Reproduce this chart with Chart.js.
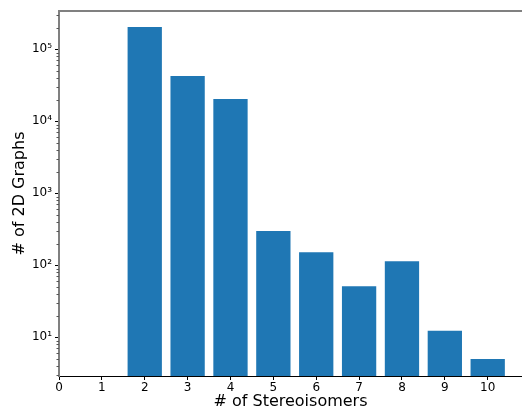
<!DOCTYPE html>
<html>
<head>
<meta charset="utf-8">
<script src="https://cdn.jsdelivr.net/npm/chart.js@4"></script>
<style>
  html, body { margin: 0; padding: 0; background: #fff; overflow: hidden; }
</style>
</head>
<body>
<canvas id="isoChart" width="522" height="413"></canvas>
<script>
'use strict'
{
  const stereoisomers = [2, 3, 4, 5, 6, 7, 8, 9, 10];
  const graphCounts = [204000, 42500, 20400, 300, 152, 51, 114, 12.3, 5];
  const xTicks = [0, 1, 2, 3, 4, 5, 6, 7, 8, 9, 10];
  const sup = {'0': '⁰', '1': '¹', '2': '²', '3': '³', '4': '⁴', '5': '⁵', '6': '⁶'};

  const isPow10 = (v) => Math.abs(Math.log10(v) - Math.round(Math.log10(v))) < 1e-9;

  // short minor ticks on the log axis + top spine
  const axisExtras = {
    id: 'axisExtras',
    afterDraw(chart) {
      const c = chart.ctx;
      const y = chart.scales.y;
      const area = chart.chartArea;
      c.save();
      c.strokeStyle = '#555';
      c.lineWidth = 1;
      for (let e = Math.floor(Math.log10(y.min)); e <= Math.ceil(Math.log10(y.max)); e++) {
        for (let k = 2; k <= 9; k++) {
          const v = k * Math.pow(10, e);
          if (v < y.min || v > y.max) continue;
          const py = Math.round(y.getPixelForValue(v)) + 0.5;
          c.beginPath();
          c.moveTo(area.left - 2.5, py);
          c.lineTo(area.left, py);
          c.stroke();
        }
      }
      c.strokeStyle = '#808080';
      c.lineWidth = 2;
      c.beginPath();
      c.moveTo(area.left, area.top);
      c.lineTo(chart.width, area.top);
      c.stroke();
      c.restore();
    }
  };

  const ctx = document.getElementById('isoChart').getContext('2d');

  const data = {
    datasets: [{
      data: stereoisomers.map((s, i) => ({x: s, y: graphCounts[i]})),
      backgroundColor: '#1f77b4',
      borderWidth: 0,
      barPercentage: 0.8,
      categoryPercentage: 1.0,
    }],
  };

  const options = {
    responsive: false,
    animation: false,
    layout: {
      padding: {top: 11, left: 0, right: 0, bottom: 0},
    },
    plugins: {
      legend: {display: false},
      tooltip: {enabled: false},
    },
    scales: {
      x: {
        type: 'linear',
        min: 0,
        max: 10.8,
        offset: false,
        afterBuildTicks: (scale) => {
          scale.ticks = xTicks.map(v => ({value: v}));
        },
        afterFit: (scale) => { scale.height = 37; },
        grid: {
          offset: false,
          drawOnChartArea: false,
          tickLength: 4,
          tickColor: '#000',
        },
        border: {color: '#000', width: 1},
        ticks: {
          includeBounds: false,
          autoSkip: false,
          maxRotation: 0,
          padding: 1,
          color: '#000',
          font: {family: 'DejaVu Sans', size: 12},
        },
        title: {
          display: true,
          text: '# of Stereoisomers',
          color: '#000',
          padding: {top: 0, bottom: 2},
          font: {family: 'DejaVu Sans', size: 16},
        },
      },
      y: {
        type: 'logarithmic',
        min: 2.9,
        max: 340000,
        afterFit: (scale) => { scale.width = 59; },
        grid: {
          drawOnChartArea: false,
          tickLength: 4,
          tickColor: (c) => (c.tick && isPow10(c.tick.value)) ? '#000' : 'rgba(0,0,0,0)',
        },
        border: {color: '#808080', width: 2},
        ticks: {
          autoSkip: false,
          padding: 3,
          color: '#000',
          font: {family: 'DejaVu Sans', size: 12},
          callback: (v) => {
            if (!isPow10(v)) return '';
            const e = String(Math.round(Math.log10(v)));
            return '10' + e.split('').map(d => sup[d]).join('');
          },
        },
        title: {
          display: true,
          text: '# of 2D Graphs',
          color: '#000',
          padding: {top: 10, bottom: 0},
          font: {family: 'DejaVu Sans', size: 16},
        },
      },
    },
  };

  const isoChart = new Chart(ctx, {
    type: 'bar',
    data: data,
    options: options,
    plugins: [axisExtras],
  });
}
</script>
</body>
</html>
